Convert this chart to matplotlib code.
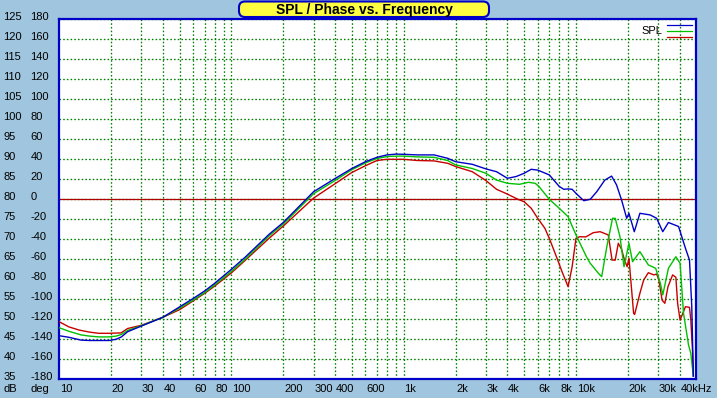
import numpy as np
import matplotlib
matplotlib.use("Agg")
import matplotlib.pyplot as plt
from matplotlib.patches import FancyBboxPatch
from matplotlib.transforms import blended_transform_factory

plt.rcParams["font.family"] = ["Liberation Sans", "DejaVu Sans"]

# ── Data ─────────────────────────────────────────────────────────────────────
blue_f = [10, 11.4, 13.4, 15, 17, 19.5, 21.4, 23, 25, 30,
          40, 50, 60, 70, 80, 100, 120, 166, 200, 300,
          400, 500, 600, 700, 800, 900, 1000, 1200, 1500, 1800,
          2000, 2500, 3000, 3460, 4000, 4500, 5000, 5500, 6000, 7000,
          8000, 8500, 9000, 9500, 10000, 11100, 12100, 13200, 14700, 16100,
          17200, 18400, 19700, 20300, 21800, 23500, 26900, 29400, 31900, 34400,
          39400, 43200, 45600, 47000, 48000]
blue_db = [45.9, 45.5, 44.8, 44.7, 44.7, 44.7, 45.0, 45.6, 46.9, 48.3,
           50.5, 53.1, 55.2, 57.1, 59.0, 62.5, 65.5, 71.3, 74.2, 81.9,
           85.2, 87.7, 89.4, 90.5, 91.1, 91.3, 91.25, 91.1, 91.1, 90.25,
           89.4, 88.75, 87.6, 86.9, 85.25, 85.7, 86.5, 87.5, 87.3, 86.1,
           83.2, 82.5, 82.6, 82.5, 81.5, 79.65, 80.0, 81.9, 84.8, 85.8,
           83.6, 79.8, 75.25, 76.5, 71.9, 76.5, 76.1, 75.25, 71.9, 74.2,
           73.2, 67.75, 64.8, 53.15, 35.8]

green_f = [10, 11.4, 13.4, 15, 17, 19.5, 21.4, 23, 25, 30,
           40, 50, 60, 70, 80, 100, 120, 166, 200, 300,
           400, 500, 600, 700, 800, 900, 1000, 1200, 1500, 1800,
           2000, 2500, 3000, 3460, 4000, 4700, 5300, 5800, 6100, 7000,
           8000, 9000, 10000, 11500, 12100, 13500, 14100, 15100, 16300, 16900,
           18000, 19000, 20300, 21300, 23500, 26300, 29000, 30900, 31900, 34400,
           38000, 40200, 42100, 45000, 46400, 48000]
green_db = [47.9, 47.0, 46.1, 45.8, 45.6, 45.6, 45.8, 46.2, 47.2, 48.4,
            50.5, 52.8, 54.8, 56.7, 58.6, 62.0, 65.0, 70.9, 73.8, 81.4,
            84.7, 87.4, 89.1, 90.2, 90.7, 90.8, 90.8, 90.6, 90.5, 89.7,
            88.6, 87.7, 86.5, 84.8, 84.0, 83.75, 84.25, 84.0, 83.2, 80.0,
            77.75, 75.65, 71.1, 65.65, 64.0, 61.5, 60.65, 68.15, 75.25, 75.25,
            70.65, 63.15, 69.0, 64.4, 66.9, 63.6, 62.75, 59.0, 56.1, 62.75,
            65.65, 64.0, 51.5, 43.6, 41.5, 35.8]

red_f = [10, 11.4, 13.1, 15, 17, 19.5, 22.9, 25, 30, 40,
         50, 60, 70, 80, 100, 120, 166, 200, 300, 400,
         500, 600, 700, 800, 900, 1000, 1200, 1500, 1800, 2000,
         2500, 3000, 3460, 4000, 4600, 5000, 5500, 6000, 6600, 7000,
         7700, 8300, 9000, 9500, 10000, 10500, 11400, 12600, 13800, 15400,
         16200, 16900, 17600, 18400, 19000, 19800, 20300, 21600, 21900, 23500,
         24700, 26300, 28300, 29400, 30300, 31600, 32800, 34200, 36400, 38000,
         38900, 40200, 43200, 45600, 46400, 47500, 48000]
red_db = [49.4, 48.1, 47.3, 46.8, 46.5, 46.5, 46.6, 47.7, 48.5, 50.5,
          52.4, 54.6, 56.5, 58.3, 61.6, 64.7, 70.3, 73.3, 80.3, 83.9,
          86.7, 88.4, 89.7, 90.0, 90.0, 90.0, 89.7, 89.6, 89.0, 88.2,
          86.9, 84.7, 82.5, 81.3, 80.0, 79.4, 77.75, 75.25, 72.75, 70.25,
          65.65, 61.9, 58.15, 63.15, 70.25, 70.65, 70.6, 71.65, 71.9, 71.1,
          64.8, 64.8, 69.0, 67.5, 65.25, 63.15, 65.25, 51.5, 51.2, 56.5,
          59.8, 61.65, 61.1, 61.3, 59.8, 54.8, 54.0, 58.15, 61.1, 60.5,
          54.0, 49.8, 53.15, 53.0, 49.8, 42.0, 35.8]

db_ticks = list(range(35, 130, 5))
freq_labels = [10, 20, 30, 40, 60, 80, 100, 200, 300, 400, 600,
               1000, 2000, 3000, 4000, 6000, 8000, 10000, 20000, 30000, 40000]
freq_text = ["10", "20", "30", "40", "60", "80", "100", "200", "300", "400", "600",
             "1k", "2k", "3k", "4k", "6k", "8k", "10k", "20k", "30k", "40kHz"]

# ── Style ────────────────────────────────────────────────────────────────────
BG = "#A0C6DF"
BORDER = "#0000C8"
GRID = "#008000"
W, H = 717, 398

fig = plt.figure(figsize=(W / 100, H / 100), dpi=100, facecolor=BG)
ax = fig.add_axes([59.1 / W, 1 - 379.3 / H, 637.3 / W, 360 / H])
ax.set_xscale("log")
ax.set_xlim(10, 50000)
ax.set_ylim(35, 125)

# grid lines at 1..9 x decade
grid_f = [m * 10 ** d for d in range(1, 5) for m in range(1, 10)]
grid_f = [f for f in grid_f if 10 < f < 50000]
ax.set_xticks(grid_f)
ax.set_xticks([], minor=True)
ax.set_yticks(db_ticks)
ax.tick_params(which="both", length=0, labelbottom=False, labelleft=False)
ax.grid(True, which="major", color=GRID, linestyle=(0, (1.2, 1.6)),
        linewidth=0.95)
ax.set_axisbelow(True)
ax.axhline(80, color="#B00000", linewidth=0.9, zorder=2)

for spine in ax.spines.values():
    spine.set_color(BORDER)
    spine.set_linewidth(1.6)

ax.plot(red_f, red_db, color="#C80000", linewidth=1.0, zorder=3)
ax.plot(green_f, green_db, color="#00C000", linewidth=1.0, zorder=4)
ax.plot(blue_f, blue_db, color="#0000C8", linewidth=1.0, zorder=5)

# ── Axis labels ──────────────────────────────────────────────────────────────
ytr = blended_transform_factory(fig.transFigure, ax.transData)
for v in db_ticks:
    ax.text(3.5 / W, v + 0.5, str(v), transform=ytr, ha="left", va="center",
            fontsize=8, clip_on=False)
    ax.text(30.5 / W, v + 0.5, str((v - 80) * 4), transform=ytr, ha="left",
            va="center", fontsize=8, clip_on=False)

xtr = blended_transform_factory(ax.transData, fig.transFigure)
for f, t in zip(freq_labels, freq_text):
    ax.text(f * 1.01, 1 - 389 / H, t, transform=xtr, ha="left", va="center",
            fontsize=8, clip_on=False)
fig.text(3.5 / W, 1 - 389 / H, "dB", ha="left", va="center", fontsize=8)
fig.text(30.5 / W, 1 - 389 / H, "deg", ha="left", va="center", fontsize=8)

# ── Overlay in pixel coords: title box and legend ────────────────────────────
ov = fig.add_axes([0, 0, 1, 1], facecolor="none")
ov.set_xlim(0, W)
ov.set_ylim(H, 0)
ov.axis("off")

box = FancyBboxPatch((239, 1.5), 250, 15.5, boxstyle="round,pad=0,rounding_size=6",
                     facecolor="#FFFF40", edgecolor=BORDER, linewidth=1.5)
ov.add_patch(box)
ov.text(364, 9.8, "SPL / Phase vs. Frequency", ha="center", va="center",
        fontsize=10, fontweight="bold")

ov.text(662, 31.5, "SPL", ha="right", va="center", fontsize=8)
for yy, c in [(25, "#0000C8"), (31, "#00C000"), (37, "#C80000")]:
    ov.plot([667, 692], [yy, yy], color=c, linewidth=0.9)

plt.savefig("out.png", dpi=100, facecolor=BG)
plt.close()
